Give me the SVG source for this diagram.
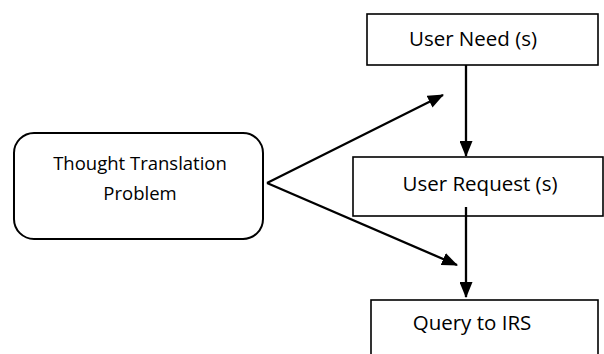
<svg xmlns="http://www.w3.org/2000/svg" width="604" height="354" viewBox="0 0 604 354">
<defs>
<marker id="ah" markerWidth="16" markerHeight="13" refX="15" refY="6.5" orient="auto" markerUnits="userSpaceOnUse" viewBox="0 0 16 13">
<path d="M0,0 L16,6.5 L0,13 z" fill="#000"/>
</marker>
<style>
.box{fill:#fff;stroke:#000;stroke-width:1.6}
.t{font-family:"Open Sans","Liberation Sans",sans-serif;font-size:20.5px;fill:#000;text-anchor:middle}
.s{font-size:18.5px}
.c{stroke:#000;stroke-width:2.3;fill:none}
</style>
</defs>
<rect width="604" height="354" fill="#fff"/>
<g id="thought">
<rect class="box" x="14" y="133" width="249" height="106" rx="20" ry="20" style="stroke-width:2"/>
<text class="t s" x="140" y="170">Thought Translation</text>
<text class="t s" x="140" y="200">Problem</text>
</g>
<g id="need">
<rect class="box" x="367" y="14" width="231" height="51"/>
<text class="t" x="473" y="46">User Need (s)</text>
</g>
<g id="request">
<rect class="box" x="353" y="157" width="250" height="59"/>
<text class="t" x="480" y="191">User Request (s)</text>
</g>
<g id="query">
<rect class="box" x="371" y="300" width="227" height="60"/>
<text class="t" x="472" y="330">Query to IRS</text>
</g>
<g id="connectors">
<line class="c" x1="267" y1="183" x2="443" y2="95" marker-end="url(#ah)"/>
<line class="c" x1="267" y1="183" x2="457" y2="265" marker-end="url(#ah)"/>
<line class="c" x1="466" y1="65" x2="466" y2="156" marker-end="url(#ah)"/>
<line class="c" x1="466" y1="207" x2="466" y2="297" marker-end="url(#ah)"/>
</g>
</svg>
